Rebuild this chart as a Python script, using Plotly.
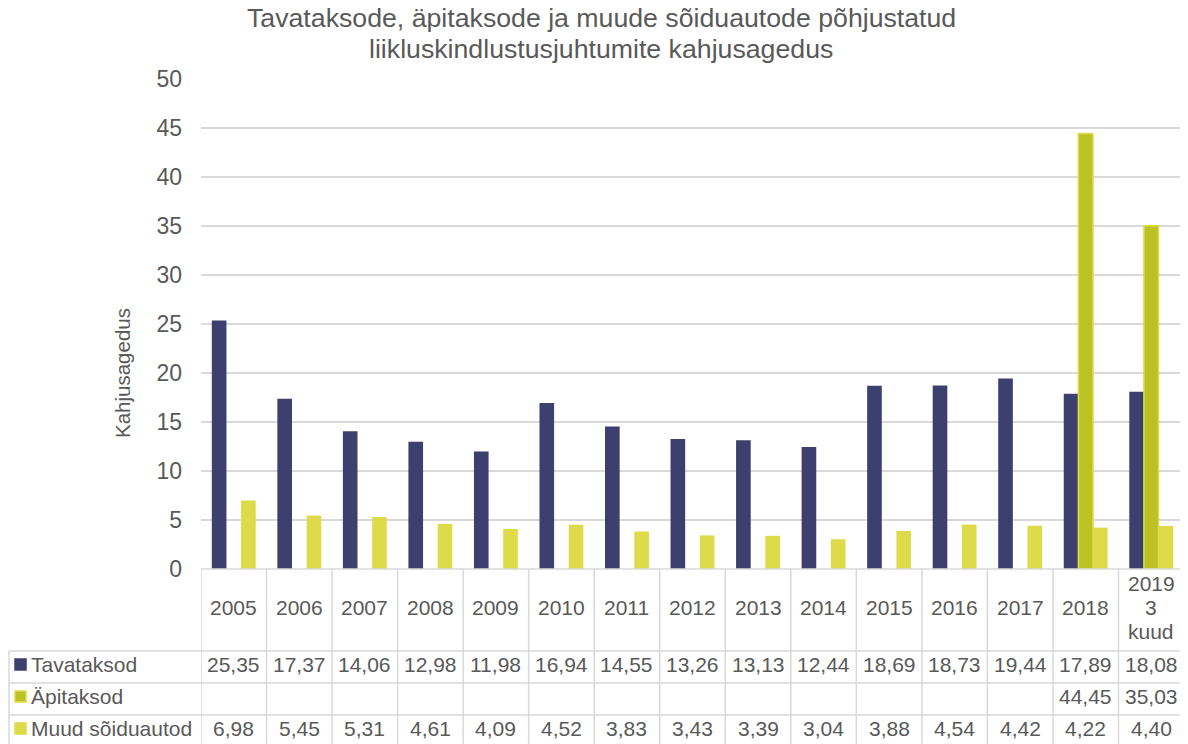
import plotly.graph_objects as go

# The page body has an 8px margin; the figure is sized to fit the window exactly.
OFF = 8
W, H = 1188 - OFF, 744 - OFF

categories = ["2005", "2006", "2007", "2008", "2009", "2010", "2011", "2012",
              "2013", "2014", "2015", "2016", "2017", "2018", "2019<br>3<br>kuud"]
tavataksod = [25.35, 17.37, 14.06, 12.98, 11.98, 16.94, 14.55, 13.26,
              13.13, 12.44, 18.69, 18.73, 19.44, 17.89, 18.08]
apitaksod = [None, None, None, None, None, None, None, None,
             None, None, None, None, None, 44.45, 35.03]
muud = [6.98, 5.45, 5.31, 4.61, 4.09, 4.52, 3.83, 3.43,
        3.39, 3.04, 3.88, 4.54, 4.42, 4.22, 4.40]
series_names = ["Tavataksod", "Äpitaksod", "Muud sõiduautod"]
title_lines = ["Tavataksode, äpitaksode ja muude sõiduautode põhjustatud",
               "liikluskindlustusjuhtumite kahjusagedus"]
y_title = "Kahjusagedus"

C_NAVY = "#3D3F6F"
C_GREEN = "#BCC224"
C_GREEN_EDGE = "#E0DC4C"
C_YELLOW = "#DEDB4A"
TXT = "#595959"
GRID = "#D9D9D9"
FONT = "Liberation Sans, Arial, sans-serif"
TABLE_FS = 21


def px(x):
    """screen x pixel -> paper fraction"""
    return (x - OFF) / W


def py(y):
    """screen y pixel -> paper fraction"""
    return 1 - (y - OFF) / H


PLOT_L, PLOT_R, PLOT_T, PLOT_B = 201, 1184, 79, 569
BOTTOM = 744
xs = list(range(len(categories)))

fig = go.Figure()
fig.add_trace(go.Bar(x=xs, y=tavataksod, name=series_names[0],
                     marker=dict(color=C_NAVY, line=dict(width=0))))
fig.add_trace(go.Bar(x=xs, y=apitaksod, name=series_names[1],
                     marker=dict(color=C_GREEN, line=dict(color=C_GREEN_EDGE, width=1.5))))
fig.add_trace(go.Bar(x=xs, y=muud, name=series_names[2],
                     marker=dict(color=C_YELLOW, line=dict(width=0))))

shapes = []
annotations = []

# Table vertical lines (category columns)
for i in range(len(categories) + 1):
    shapes.append(dict(type="line", xref="x", yref="paper",
                       x0=i - 0.5, x1=i - 0.5, y0=py(PLOT_B), y1=py(BOTTOM + 2),
                       line=dict(color=GRID, width=1.5)))
# Top border of table (baseline)
shapes.append(dict(type="line", xref="paper", yref="paper",
                   x0=px(PLOT_L), x1=px(PLOT_R), y0=py(PLOT_B), y1=py(PLOT_B),
                   line=dict(color=GRID, width=1.5)))
# Row lines
row_tops = [651, 683, 715]
for ry in row_tops:
    shapes.append(dict(type="line", xref="paper", yref="paper",
                       x0=px(9), x1=px(PLOT_R), y0=py(ry), y1=py(ry),
                       line=dict(color=GRID, width=1.5)))
# Left border of legend column
shapes.append(dict(type="line", xref="paper", yref="paper",
                   x0=px(9), x1=px(9), y0=py(651), y1=py(BOTTOM + 2),
                   line=dict(color=GRID, width=1.5)))

# Category header labels (each line placed separately for tight spacing)
HEADER_CY, HEADER_LS = 607, 24
for i, c in enumerate(categories):
    lines = c.split("<br>")
    n = len(lines)
    for k, ln in enumerate(lines):
        yc = HEADER_CY + (k - (n - 1) / 2) * HEADER_LS
        annotations.append(dict(x=i, y=py(yc), xref="x", yref="paper", text=ln,
                                showarrow=False, xanchor="center", yanchor="middle",
                                font=dict(size=TABLE_FS, color=TXT, family=FONT)))

row_centers = [664, 696, 728]
all_series = [tavataksod, apitaksod, muud]
colors = [C_NAVY, C_GREEN, C_YELLOW]
edges = [C_NAVY, C_GREEN_EDGE, C_YELLOW]
for r, (vals, name) in enumerate(zip(all_series, series_names)):
    yc = row_centers[r]
    for i, v in enumerate(vals):
        if v is None:
            continue
        annotations.append(dict(x=i, y=py(yc), xref="x", yref="paper",
                                text=f"{v:.2f}".replace(".", ","),
                                showarrow=False, xanchor="center", yanchor="middle",
                                font=dict(size=TABLE_FS, color=TXT, family=FONT)))
    # legend key
    shapes.append(dict(type="rect", xref="paper", yref="paper",
                       x0=px(15), x1=px(26), y0=py(yc + 6), y1=py(yc - 5),
                       fillcolor=colors[r], line=dict(color=edges[r], width=1.5)))
    annotations.append(dict(x=px(29), y=py(yc), xref="paper", yref="paper",
                            text=name, showarrow=False, xanchor="left", yanchor="middle",
                            font=dict(size=TABLE_FS, color=TXT, family=FONT)))

# Title (two lines, placed individually)
for k, ln in enumerate(title_lines):
    annotations.append(dict(x=px(601), y=py(18 + 31 * k), xref="paper", yref="paper",
                            text=ln, showarrow=False, xanchor="center",
                            yanchor="middle", font=dict(size=26.7, color=TXT, family=FONT)))
# Y axis title
annotations.append(dict(x=px(122), y=py(373), xref="paper", yref="paper",
                        text=y_title, textangle=-90, showarrow=False,
                        xanchor="center", yanchor="middle",
                        font=dict(size=20.5, color=TXT, family=FONT)))

fig.update_layout(
    width=W, height=H, autosize=False,
    margin=dict(l=0, r=0, t=0, b=0, pad=0),
    paper_bgcolor="white", plot_bgcolor="white",
    barmode="group", bargap=0.33, bargroupgap=0,
    showlegend=False,
    shapes=shapes, annotations=annotations,
    font=dict(family=FONT, color=TXT),
    xaxis=dict(domain=[px(PLOT_L), px(PLOT_R)], range=[-0.5, len(categories) - 0.5],
               showticklabels=False, showgrid=False, zeroline=False, ticks="",
               showline=False, fixedrange=True, automargin=False),
    yaxis=dict(domain=[py(PLOT_B), py(PLOT_T)], range=[0, 50], dtick=5,
               showgrid=True, gridcolor=GRID, gridwidth=1.5, zeroline=False,
               showline=False, ticks="", ticklabelstandoff=18, automargin=False,
               tickfont=dict(size=23, color=TXT, family=FONT)),
)

fig.write_html("out.html")
